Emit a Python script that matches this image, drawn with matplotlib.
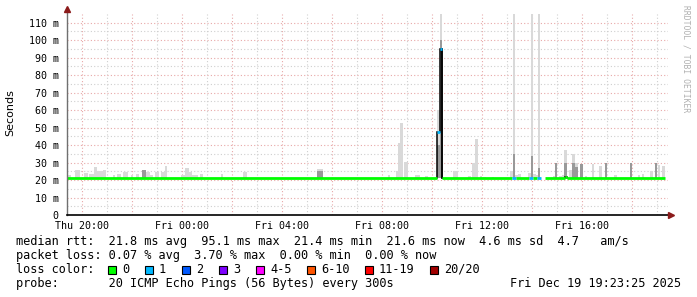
import matplotlib.pyplot as plt
import numpy as np
from matplotlib.patches import Rectangle

plt.rcParams["font.family"] = "DejaVu Sans Mono"

# time axis in hours since Thu 00:00
tick_hours = [20, 24, 28, 32, 36, 40]
tick_labels = ["Thu 20:00", "Fri 00:00", "Fri 04:00", "Fri 08:00", "Fri 12:00", "Fri 16:00"]
y_ticks = [0, 10, 20, 30, 40, 50, 60, 70, 80, 90, 100, 110]
y_labels = ["0"] + [f"{v} m" for v in y_ticks[1:]]

# smoke bars: start hour, end hour, max rtt (ms), darker core top (ms, 0 = none)
smoke_start = [19.40, 19.72, 20.08, 20.28, 20.48, 20.60, 20.84, 21.24, 21.40, 21.64,
               21.96, 22.16, 22.40, 22.56, 22.72, 22.92, 23.16, 23.32, 23.96, 24.12,
               24.28, 24.40, 24.72, 25.56, 26.44, 29.40, 32.24, 32.56, 32.64, 32.72,
               32.88, 33.32, 33.72, 34.20, 34.30, 34.84, 35.44, 35.60, 35.72, 35.92,
               36.04, 36.40, 37.12, 37.24, 37.32, 37.44, 37.84, 37.96, 38.04, 38.16,
               38.24, 38.84, 38.92, 39.08, 39.20, 39.28, 39.48, 39.60, 39.72, 39.92,
               40.12, 40.40, 40.68, 40.92, 41.28, 41.92, 42.24, 42.40, 42.72, 42.92,
               43.04, 43.20]
smoke_end = [19.56, 19.92, 20.24, 20.48, 20.60, 20.84, 20.96, 21.32, 21.56, 21.84,
             22.04, 22.28, 22.56, 22.72, 22.84, 23.08, 23.32, 23.40, 24.12, 24.28,
             24.40, 24.64, 24.84, 25.64, 26.60, 29.64, 32.32, 32.64, 32.72, 32.84,
             33.04, 33.52, 33.84, 34.30, 34.40, 35.04, 35.56, 35.72, 35.84, 36.00,
             36.16, 36.48, 37.24, 37.32, 37.44, 37.56, 37.96, 38.04, 38.16, 38.24,
             38.32, 38.92, 39.00, 39.20, 39.28, 39.40, 39.60, 39.72, 39.84, 40.04,
             40.20, 40.48, 40.80, 41.00, 41.40, 42.00, 42.32, 42.48, 42.84, 43.00,
             43.12, 43.32]
smoke_top = [23.0, 26.0, 24.0, 23.5, 27.5, 25.0, 26.0, 22.8, 23.5, 24.5,
             23.0, 23.5, 26.0, 24.7, 23.0, 24.5, 24.5, 28.0, 23.0, 27.0,
             24.5, 22.8, 23.5, 23.5, 24.8, 26.3, 22.8, 25.0, 41.0, 52.7,
             30.5, 23.0, 22.5, 60.0, 115.0, 25.0, 22.5, 30.0, 43.4, 22.3,
             22.0, 22.0, 25.0, 115.0, 23.0, 23.5, 24.0, 115.0, 23.5, 23.0,
             115.0, 22.3, 29.5, 22.5, 23.0, 37.0, 26.0, 35.0, 30.0, 29.0,
             22.5, 29.0, 28.0, 29.6, 23.0, 29.5, 23.0, 23.5, 25.0, 30.0,
             28.5, 28.0]
smoke_core = [0, 0, 0, 0, 0, 0, 0, 0, 0, 0,
              0, 0, 26.0, 0, 0, 0, 0, 0, 0, 0,
              0, 0, 0, 0, 0, 25.0, 0, 0, 0, 0,
              0, 0, 0, 40.0, 100.0, 0, 0, 0, 0, 0,
              0, 0, 0, 35.0, 0, 0, 0, 34.0, 0, 0,
              27.0, 0, 29.5, 0, 0, 30.0, 0, 30.0, 27.6, 29.0,
              0, 0, 0, 29.6, 0, 29.5, 0, 0, 0, 30.0,
              0, 0]

# median rtt segments, coloured by loss class
med_start = [19.40, 34.20, 34.30, 34.40, 37.20, 37.36, 37.88, 38.04, 38.20, 38.52, 39.32, 39.40]
med_end = [34.20, 34.30, 34.38, 37.20, 37.36, 37.88, 38.04, 38.20, 38.36, 39.32, 39.40, 43.32]
med_val = [21.3, 47.4, 94.9, 21.3, 21.3, 21.3, 21.3, 21.3, 21.3, 21.3, 22.0, 21.3]
med_loss = [0, 1, 1, 0, 1, 0, 1, 0, 1, 0, 0, 0]

loss_names = ["0", "1", "2", "3", "4-5", "6-10", "11-19", "20/20"]
loss_colors = ["#00ff00", "#00b8ff", "#0059ff", "#7e00ff", "#ff00ff", "#ff5500", "#ff0000", "#a10000"]

W, H = 697, 297
fig = plt.figure(figsize=(W / 100, H / 100), dpi=100)
fig.patch.set_facecolor("white")
ax = fig.add_axes([67 / W, 1 - 215 / H, 601 / W, 201 / H])
x0, x1 = 19.4, 43.44
ax.set_xlim(x0, x1)
ax.set_ylim(0, 115)
for s in ax.spines.values():
    s.set_visible(False)

# grid
dots = (0, (1, 2))
ax.vlines(np.arange(21, 44, 2), 0, 115, colors="#cfcfcf", lw=0.8, linestyles=dots, zorder=0)
ax.hlines(np.arange(5, 115, 10), x0, x1, colors="#cfcfcf", lw=0.8, linestyles=dots, zorder=0)
ax.vlines(np.arange(20, 44, 2), 0, 115, colors="#e8a8a8", lw=0.8, linestyles=dots, zorder=0)
ax.hlines(np.arange(10, 115, 10), x0, x1, colors="#e8a8a8", lw=0.8, linestyles=dots, zorder=0)

# smoke
st = np.array(smoke_start)
en = np.array(smoke_end)
top = np.array(smoke_top)
core = np.array(smoke_core)
ax.bar(st, top - 21, width=en - st, bottom=21, align="edge", color="#d9d9d9", lw=0, zorder=1)
m = core > 0
ax.bar(st[m], core[m] - 21, width=(en - st)[m], bottom=21, align="edge", color="#999999", lw=0, zorder=1)

# median: black connectors then loss coloured segments
for i in range(len(med_start) - 1):
    if abs(med_end[i] - med_start[i + 1]) < 0.03 and med_val[i] != med_val[i + 1]:
        ax.plot([med_start[i + 1]] * 2, [med_val[i], med_val[i + 1]], color="black", lw=1.1, zorder=3)
ax.plot([34.39, 34.39], [94.9, 21.3], color="black", lw=1.1, zorder=3)
for a, b, v, l in zip(med_start, med_end, med_val, med_loss):
    ax.plot([a, b], [v, v], color=loss_colors[l], lw=2.0, solid_capstyle="butt", zorder=4)

# axes with arrows
ax.plot([x0, x0], [0, 117.5], color="#707070", lw=1.0, clip_on=False, zorder=5)
ax.plot([x0, x1 + 0.05], [0, 0], color="black", lw=1.2, clip_on=False, zorder=5)
ax.plot([x0], [117.8], marker="^", color="#8b1a1a", ms=4, clip_on=False, zorder=6)
ax.plot([x1 + 0.1], [0], marker=">", color="#8b1a1a", ms=4, clip_on=False, zorder=6)

ax.set_xticks(tick_hours, tick_labels)
ax.set_yticks(y_ticks, y_labels)
ax.tick_params(axis="x", length=0, pad=4, labelsize=7.2)
ax.tick_params(axis="y", length=0, pad=6, labelsize=7.2)

fig.text(10 / W, 1 - 113 / H, "Seconds", rotation=90, ha="center", va="center",
         fontsize=8, family="DejaVu Sans")
fig.text(686 / W, 1 - 5 / H, "RRDTOOL / TOBI OETIKER", rotation=270, ha="center", va="top",
         fontsize=5.8, color="#b0b0b0")

# legend rows
fs = 8.55
def row(x, y, s, **kw):
    fig.text(x / W, 1 - y / H, s, fontsize=fs, va="baseline", **kw)

row(16, 245, "median rtt:  21.8 ms avg  95.1 ms max  21.4 ms min  21.6 ms now  4.6 ms sd  4.7   am/s")
row(16, 259, "packet loss: 0.07 % avg  3.70 % max  0.00 % min  0.00 % now")
row(16, 273, "loss color:")
box_x = [108, 145, 182, 219, 256, 307, 365, 430]
for bx, name, col in zip(box_x, loss_names, loss_colors):
    fig.patches.append(Rectangle((bx / W, 1 - 273.5 / H), 8 / W, 8 / H, transform=fig.transFigure,
                                 facecolor=col, edgecolor="black", lw=0.8))
    row(bx + 14, 273, name)
row(16, 287, "probe:       20 ICMP Echo Pings (56 Bytes) every 300s")
row(681, 287, "Fri Dec 19 19:23:25 2025", ha="right")

fig.savefig("out.png", dpi=100)
